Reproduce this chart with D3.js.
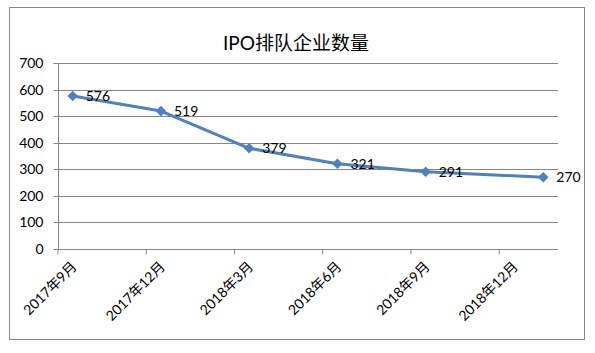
<!DOCTYPE html>
<html>
<head>
<meta charset="utf-8">
<script src="https://cdn.jsdelivr.net/npm/d3@7"></script>
<style>
  html, body { margin: 0; padding: 0; background: #fff; }
  svg { display: block; }
  text { font-family: "Lato", "Noto Sans CJK SC", sans-serif; fill: #000; }
</style>
</head>
<body>
<script>
// ---- data ----
const title = "IPO排队企业数量";
const pointMonths = ["2017-09", "2017-12", "2018-03", "2018-06", "2018-09", "2019-01"];
const values = [576, 519, 379, 321, 291, 270];
const tickMonths = ["2017-09", "2017-12", "2018-03", "2018-06", "2018-09", "2018-12"];
const tickLabels = ["2017年9月", "2017年12月", "2018年3月", "2018年6月", "2018年9月", "2018年12月"];
const yTicks = [0, 100, 200, 300, 400, 500, 600, 700];

// ---- layout ----
const W = 595, H = 353;
const plot = { left: 58, right: 558, top: 63, bottom: 249 };
const fmt = d3.timeFormat("%Y-%m");
const parse = d3.timeParse("%Y-%m");
const allMonths = d3.timeMonth.range(parse("2017-09"), parse("2019-02")).map(fmt);

const svg = d3.select("body").append("svg").attr("width", W).attr("height", H);

svg.append("rect")
  .attr("x", 9.5).attr("y", 7.5).attr("width", 575).attr("height", 332)
  .attr("fill", "#fff").attr("stroke", "#868686").attr("stroke-width", 1);

const x = d3.scaleBand().domain(allMonths).range([plot.left, plot.right]).padding(0);
const bw = x.bandwidth();
const y = d3.scaleLinear().domain([0, 700]).range([plot.bottom, plot.top]);

// title
svg.append("text")
  .attr("x", 296).attr("y", 50)
  .attr("text-anchor", "middle")
  .style("font-size", "19px")
  .text(title);

// gridlines
svg.append("g").selectAll("line").data(yTicks.filter(d => d > 0)).join("line")
  .attr("x1", plot.left).attr("x2", plot.right)
  .attr("y1", d => Math.round(y(d)) + 0.5).attr("y2", d => Math.round(y(d)) + 0.5)
  .attr("stroke", "#868686").attr("stroke-width", 1);

// y axis
const yAxis = svg.append("g")
  .attr("transform", `translate(${plot.left + 0.5},0)`)
  .call(d3.axisLeft(y).tickValues(yTicks).tickSize(5).tickPadding(10).tickFormat(d3.format("d")));
yAxis.select(".domain").attr("stroke", "#868686").attr("d", `M-5,${Math.round(y(0)) + 0.5}H0V${Math.round(y(700)) + 0.5}H-5`);
yAxis.selectAll(".tick").attr("transform", d => `translate(0,${Math.round(y(d)) + 0.5})`);
yAxis.selectAll(".tick line").attr("stroke", "#868686");
yAxis.selectAll(".tick text").style("font-size", "14px").style("font-family", "Lato, 'Noto Sans CJK SC', sans-serif").attr("fill", "#000");

// x axis
const xAxis = svg.append("g")
  .attr("transform", `translate(0,${Math.round(y(0)) + 0.5})`)
  .call(d3.axisBottom(x).tickValues(tickMonths).tickSize(5).tickFormat((d, i) => tickLabels[i]));
xAxis.select(".domain").attr("stroke", "#868686").attr("d", `M${plot.left},0H${plot.right}`);
xAxis.selectAll(".tick line").attr("stroke", "#868686").attr("x1", -bw / 2).attr("x2", -bw / 2);
xAxis.selectAll(".tick text")
  .style("font-size", "14px").style("font-family", "Lato, 'Noto Sans CJK SC', sans-serif")
  .attr("fill", "#000")
  .attr("text-anchor", "end")
  .attr("dy", null)
  .attr("y", null)
  .attr("transform", "translate(5,18) rotate(-45)");

// line
const pts = pointMonths.map((m, i) => ({ m, v: values[i] }));
const line = d3.line().x(d => x(d.m) + bw / 2).y(d => y(d.v));
svg.append("path").datum(pts)
  .attr("d", line)
  .attr("fill", "none")
  .attr("stroke", "#4F81BD")
  .attr("stroke-width", 3)
  .attr("stroke-linejoin", "round");

// markers
svg.append("g").selectAll("path").data(pts).join("path")
  .attr("d", d3.symbol(d3.symbolSquare, 56))
  .attr("transform", d => `translate(${x(d.m) + bw / 2},${y(d.v)}) rotate(45)`)
  .attr("fill", "#4F81BD");

// data labels
svg.append("g").selectAll("text").data(pts).join("text")
  .attr("x", d => x(d.m) + bw / 2 + 13)
  .attr("y", d => y(d.v))
  .attr("dy", "0.35em")
  .style("font-size", "14px")
  .text(d => d.v);
</script>
</body>
</html>
